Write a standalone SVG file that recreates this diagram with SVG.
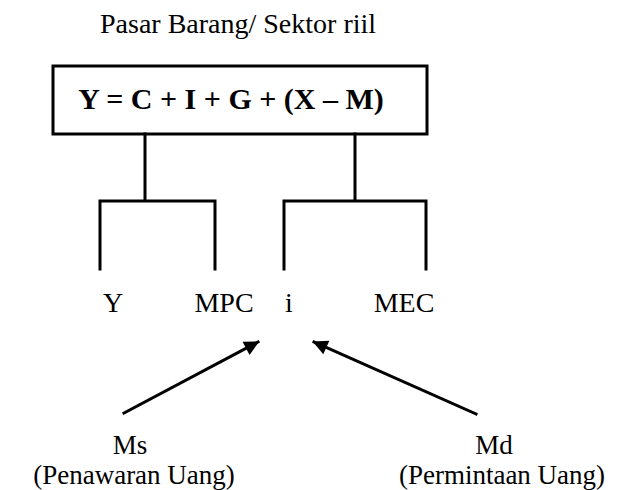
<svg xmlns="http://www.w3.org/2000/svg" width="625" height="490" viewBox="0 0 625 490">
<style>
.t{font-family:"Liberation Serif","Times New Roman",serif;fill:#000}
.r{font-size:28px}
.s{font-size:27px}
.b{font-size:30px;font-weight:bold}
.ln{fill:none;stroke:#000;stroke-width:3;stroke-linecap:square}
</style>
<defs>
<marker id="ah" viewBox="0 0 10 10" refX="9" refY="5" markerWidth="6" markerHeight="5" markerUnits="strokeWidth" orient="auto">
<path d="M0,0 L10,5 L0,10 z" fill="#000"/>
</marker>
</defs>
<rect width="625" height="490" fill="#fff"/>
<g id="title"><text class="t r" x="100" y="33" font-size="29">Pasar Barang/ Sektor riil</text></g>
<g id="formula">
<rect class="ln" x="53" y="66" width="374" height="68"/>
<text class="t b" x="231" y="109" text-anchor="middle">Y = C + I + G + (X – M)</text>
</g>
<g id="connectors">
<path class="ln" d="M145,134 V201 M100,269 V201 H215 V269"/>
<path class="ln" d="M355,134 V201 M284,269 V201 H426 V269"/>
<line class="ln" x1="124" y1="413" x2="258" y2="342" marker-end="url(#ah)"/>
<line class="ln" x1="476" y1="414" x2="314" y2="342" marker-end="url(#ah)"/>
</g>
<g id="n-y"><text class="t r" x="113" y="312" text-anchor="middle">Y</text></g>
<g id="n-mpc"><text class="t r" x="224" y="312" text-anchor="middle">MPC</text></g>
<g id="n-i"><text class="t r" x="289" y="312" text-anchor="middle">i</text></g>
<g id="n-mec"><text class="t r" x="404" y="312" text-anchor="middle">MEC</text></g>
<g id="n-ms">
<text class="t s" x="130" y="454" text-anchor="middle">Ms</text>
<text class="t s" x="134" y="484" text-anchor="middle">(Penawaran Uang)</text>
</g>
<g id="n-md">
<text class="t s" x="494" y="454" text-anchor="middle">Md</text>
<text class="t s" x="502" y="484" text-anchor="middle">(Permintaan Uang)</text>
</g>
</svg>
